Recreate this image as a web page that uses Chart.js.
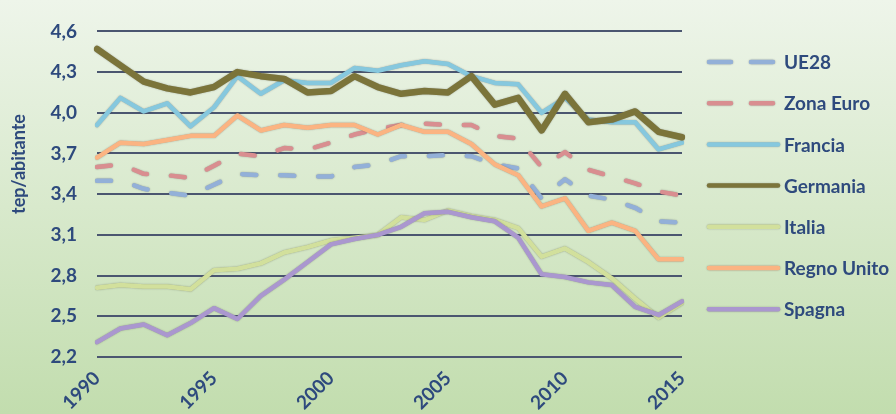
<!DOCTYPE html>
<html>
<head>
<meta charset="utf-8">
<script src="https://cdn.jsdelivr.net/npm/chart.js@4"></script>
<style>
  html, body { margin: 0; padding: 0; }
  body { width: 896px; height: 414px; background: linear-gradient(#eef5ea, #c2ddae); overflow: hidden; }
  #wrap { position: relative; width: 896px; height: 414px; }
  canvas { display: block; }
</style>
</head>
<body>
<div id="wrap"><canvas id="chart" width="896" height="414"></canvas></div>
<script>
// Data
const years = ["1990","1991","1992","1993","1994","1995","1996","1997","1998","1999","2000","2001","2002",
  "2003","2004","2005","2006","2007","2008","2009","2010","2011","2012","2013","2014","2015"];

const ue28 = [3.50,3.50,3.44,3.41,3.39,3.47,3.55,3.54,3.54,3.53,3.53,3.60,3.62,
  3.68,3.68,3.69,3.68,3.62,3.59,3.37,3.51,3.39,3.36,3.30,3.20,3.19];
const zonaEuro = [3.60,3.62,3.55,3.54,3.52,3.61,3.70,3.68,3.74,3.73,3.78,3.84,3.88,
  3.91,3.92,3.91,3.91,3.83,3.81,3.60,3.71,3.58,3.53,3.48,3.42,3.39];
const francia = [3.91,4.11,4.01,4.07,3.90,4.04,4.27,4.14,4.24,4.22,4.22,4.33,4.31,
  4.35,4.38,4.36,4.27,4.22,4.21,4.00,4.11,3.95,3.93,3.93,3.73,3.78];
const germania = [4.47,4.35,4.23,4.18,4.15,4.19,4.30,4.27,4.25,4.15,4.16,4.27,4.19,
  4.14,4.16,4.15,4.27,4.06,4.11,3.87,4.14,3.93,3.95,4.01,3.86,3.82];
const italia = [2.71,2.73,2.72,2.72,2.70,2.84,2.85,2.89,2.97,3.01,3.06,3.08,3.10,
  3.23,3.21,3.28,3.24,3.21,3.15,2.94,3.00,2.90,2.78,2.63,2.49,2.60];
const regnoUnito = [3.67,3.78,3.77,3.80,3.83,3.83,3.98,3.87,3.91,3.89,3.91,3.91,3.84,
  3.91,3.86,3.86,3.77,3.62,3.54,3.31,3.37,3.13,3.19,3.13,2.92,2.92];
const spagna = [2.31,2.41,2.44,2.36,2.45,2.56,2.48,2.65,2.77,2.90,3.03,3.07,3.10,
  3.16,3.26,3.27,3.23,3.20,3.08,2.81,2.79,2.75,2.73,2.57,2.51,2.61];

const seriesNames = ["UE28", "Zona Euro", "Francia", "Germania", "Italia", "Regno Unito", "Spagna"];
const seriesValues = [ue28, zonaEuro, francia, germania, italia, regnoUnito, spagna];
const seriesColors = ["#93b0d8", "#d98e90", "#86c8de", "#7b743a", "#d2e09c", "#fbb482", "#aa97cf"];
const seriesWidths = [4.5, 4.5, 4.5, 6.5, 4.5, 4.5, 4.5];
const seriesDashed = [true, true, false, false, false, false, false];

const yTicks = [2.2, 2.5, 2.8, 3.1, 3.4, 3.7, 4.0, 4.3, 4.6];
const yTitle = "tep/abitante";

const textColor = "#2e4a7d";
const fontFamily = "Lato, 'Open Sans', sans-serif";

// Build datasets
const datasets = seriesNames.map((name, i) => ({
  label: name,
  data: seriesValues[i],
  borderColor: seriesColors[i],
  backgroundColor: seriesColors[i],
  borderWidth: seriesWidths[i],
  borderDash: seriesDashed[i] ? [14, 24] : [],
  borderCapStyle: "round",
  borderJoinStyle: "round",
  pointRadius: 0,
  tension: 0,
  fill: false,
  order: seriesNames.length - i
}));

// faint dark outline around the lines, like the original
const lineShadow = {
  id: "lineShadow",
  beforeDatasetDraw(chart) {
    const c = chart.ctx;
    c.save();
    c.shadowColor = "rgba(60,60,60,0.45)";
    c.shadowBlur = 1.5;
  },
  afterDatasetDraw(chart) {
    chart.ctx.restore();
  }
};

// Legend drawn on the right with lines instead of boxes, plus axis title
const lineLegend = {
  id: "lineLegend",
  afterDraw(chart) {
    const c = chart.ctx;
    c.save();
    chart.data.datasets.forEach((ds, i) => {
      const y = 62 + i * 41.2;
      c.beginPath();
      c.strokeStyle = ds.borderColor;
      c.lineWidth = 4.5;
      c.lineCap = "round";
      c.shadowColor = "rgba(60,60,60,0.45)";
      c.shadowBlur = 1.5;
      c.setLineDash(ds.borderDash.length ? [22, 20] : []);
      c.moveTo(709, y);
      c.lineTo(778, y);
      c.stroke();
      c.setLineDash([]);
      c.shadowBlur = 0;
      c.shadowColor = "transparent";
      c.fillStyle = textColor;
      c.font = "bold 19px " + fontFamily;
      c.textBaseline = "middle";
      c.textAlign = "left";
      c.fillText(ds.label, 784, y + 1);
    });
    c.translate(19, 164);
    c.rotate(-Math.PI / 2);
    c.textAlign = "center";
    c.textBaseline = "middle";
    c.font = "bold 18px " + fontFamily;
    c.fillStyle = textColor;
    c.fillText(yTitle, 0, 0);
    c.restore();
  }
};

new Chart(document.getElementById("chart"), {
  type: "line",
  data: { labels: years, datasets: datasets },
  options: {
    responsive: false,
    animation: false,
    devicePixelRatio: 1,
    layout: { padding: { top: 25, right: 214, left: 0, bottom: 0 } },
    plugins: {
      legend: { display: false },
      tooltip: { enabled: false }
    },
    scales: {
      x: {
        offset: false,
        grid: { display: false, drawTicks: false },
        border: { display: false },
        afterFit(scale) { scale.height = 57; },
        ticks: {
          autoSkip: false,
          minRotation: 45,
          maxRotation: 45,
          padding: 10,
          color: textColor,
          font: { family: fontFamily, size: 19, weight: "bold" },
          callback(value, index) {
            return Number(years[index]) % 5 === 0 ? years[index] : "";
          }
        }
      },
      y: {
        min: yTicks[0],
        max: yTicks[yTicks.length - 1],
        afterFit(scale) { scale.width = 97; },
        afterBuildTicks(scale) { scale.ticks = yTicks.map(v => ({ value: v })); },
        grid: { color: "#4b5670", lineWidth: 2, drawTicks: false },
        border: { display: false },
        ticks: {
          autoSkip: false,
          padding: 20,
          color: textColor,
          font: { family: fontFamily, size: 19, weight: "bold" },
          callback(value) { return value.toFixed(1).replace(".", ","); }
        }
      }
    }
  },
  plugins: [lineShadow, lineLegend]
});
</script>
</body>
</html>
